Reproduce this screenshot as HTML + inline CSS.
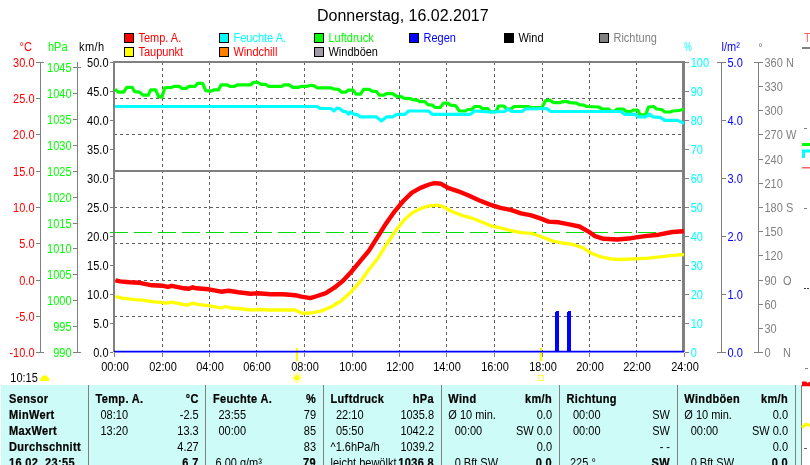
<!DOCTYPE html>
<html lang="de"><head><meta charset="utf-8"><title>Donnerstag, 16.02.2017</title>
<style>
html,body{margin:0;padding:0;background:#fff;overflow:hidden}
svg{display:block;will-change:transform;font-family:"Liberation Sans",Arial,sans-serif}
</style></head><body>
<svg width="810" height="465" viewBox="0 0 810 465">
<rect width="810" height="465" fill="#fff"/>
<g stroke="#606060" stroke-width="1" stroke-dasharray="3,3" fill="none" shape-rendering="crispEdges">
<path d="M162.5 62V351"/>
<path d="M209.5 62V351"/>
<path d="M256.5 62V351"/>
<path d="M304.5 62V351"/>
<path d="M352.5 62V351"/>
<path d="M399.5 62V351"/>
<path d="M446.5 62V351"/>
<path d="M494.5 62V351"/>
<path d="M542.5 62V351"/>
<path d="M589.5 62V351"/>
<path d="M636.5 62V351"/>
<path d="M114 98.5H683"/>
<path d="M114 134.5H683"/>
<path d="M114 207.5H683"/>
<path d="M114 243.5H683"/>
<path d="M114 280.5H683"/>
<path d="M114 316.5H683"/>
</g>
<path d="M110 232.5H684" stroke="#00e000" stroke-width="1" stroke-dasharray="18,6" shape-rendering="crispEdges"/>
<g fill="#808080" shape-rendering="crispEdges">
<rect x="113" y="61" width="2" height="291"/>
<rect x="113" y="61" width="572" height="2"/>
<rect x="682" y="61" width="3" height="291"/>
<rect x="113" y="170" width="572" height="2"/>
</g>
<polyline points="115.0,89.3 118.6,92.2 123.6,92.2 126.8,87.3 132.2,87.3 134.7,91.7 139.6,92.2 143.3,95.2 148.3,95.2 150.7,89.8 155.7,89.8 158.6,96.7 161.9,97.2 164.8,87.8 171.7,87.3 174.7,86.3 179.1,86.3 181.6,88.3 186.5,88.3 189.0,86.3 195.2,86.3 197.7,83.3 202.6,83.3 205.8,90.7 211.2,91.2 213.7,89.8 218.6,89.8 221.1,84.8 227.3,84.8 229.8,86.3 234.7,86.3 237.2,84.8 250.7,84.8 253.7,82.3 257.7,82.3 260.6,84.3 265.6,84.3 268.5,86.3 281.6,86.3 284.1,84.8 289.0,84.8 292.7,87.3 298.9,87.3 301.4,86.3 307.4,86.3 311.1,85.3 314.3,85.8 317.3,87.8 330.9,87.8 333.3,88.8 338.3,89.3 341.5,92.2 345.7,92.2 348.1,90.2 353.1,90.2 356.3,94.2 360.5,94.2 363.7,89.3 369.1,89.3 372.1,91.2 376.5,91.7 379.5,95.2 384.0,95.2 386.4,93.7 392.6,93.7 396.3,96.2 401.2,96.7 403.7,98.1 409.9,98.6 412.3,99.6 417.3,100.1 419.8,101.6 424.7,101.6 427.9,104.6 432.1,105.1 435.3,107.5 440.2,107.5 443.7,103.1 447.7,103.1 450.1,105.1 455.6,105.6 459.3,111.0 465.4,111.0 467.9,109.5 471.6,109.5 474.8,106.5 479.8,106.5 482.2,108.5 487.7,108.5 490.6,112.0 496.2,111.5 498.6,106.0 503.6,106.0 506.8,109.0 511.0,109.0 514.0,106.5 528.3,106.5 529.5,107.5 541.9,107.5 545.6,100.6 549.8,100.1 553.7,102.6 560.4,102.6 562.8,101.6 567.0,101.6 570.2,102.6 576.4,103.1 578.9,104.6 583.8,105.1 586.8,106.5 598.6,107.0 602.3,109.0 608.5,109.0 611.0,111.0 614.7,111.0 617.2,109.0 623.3,109.0 626.3,111.5 631.2,111.5 633.2,110.0 637.7,110.0 640.1,114.9 645.6,114.9 648.5,107.0 653.5,106.5 656.7,109.0 661.6,109.5 664.8,112.0 670.2,112.0 672.7,111.0 678.9,110.5 684.0,109.3" fill="none" stroke="#00ff00" stroke-width="3.2" stroke-linejoin="round" stroke-linecap="butt"/>
<polyline points="115.0,106.5 317.3,106.5 320.2,108.5 330.9,108.5 334.1,111.0 337.0,108.0 339.5,108.5 343.2,111.5 345.7,111.5 348.6,114.0 350.6,112.0 354.3,114.4 356.8,114.4 360.5,116.9 376.5,116.9 381.5,120.9 386.4,116.9 392.6,116.9 396.8,114.4 404.9,114.4 408.6,111.0 428.4,111.0 432.8,114.4 470.4,114.4 474.1,111.0 490.0,112.0 504.8,111.5 507.8,109.0 511.7,111.5 522.1,111.5 525.1,109.0 546.8,108.5 550.5,111.5 620.9,111.5 624.6,114.4 635.7,114.4 638.1,116.9 645.6,116.9 649.3,114.0 653.0,116.9 660.4,117.4 664.8,120.4 677.7,120.4 684.0,123.4" fill="none" stroke="#00ffff" stroke-width="3.2" stroke-linejoin="round" stroke-linecap="butt"/>
<polyline points="115.4,296.7 122.3,298.1 134.7,299.6 142.1,300.1 152.0,301.6 163.1,302.6 168.0,303.1 171.7,302.1 181.6,304.1 187.8,305.1 192.7,303.1 198.9,304.6 208.8,305.6 221.1,308.0 226.0,306.5 231.0,308.0 238.4,308.5 250.7,310.0 258.1,309.5 270.5,310.0 295.2,310.0 301.4,313.0 310.3,313.2 320.7,311.1 331.0,307.0 341.3,300.8 351.6,291.2 360.2,281.9 368.8,269.8 377.5,258.8 386.1,245.0 394.7,232.0 403.3,220.9 411.9,213.0 420.5,208.6 429.1,205.8 437.7,205.1 442.9,206.5 451.5,211.3 461.8,215.4 472.1,218.2 482.4,222.3 491.0,225.8 500.3,227.8 510.7,230.6 521.0,232.7 531.3,233.3 541.6,236.8 552.0,240.9 562.3,243.0 572.6,244.4 582.9,247.8 591.5,253.3 600.2,256.7 610.5,258.8 619.1,259.5 634.6,258.8 648.3,258.1 662.1,256.7 672.4,255.4 684.0,254.6" fill="none" stroke="#ffff00" stroke-width="3.3" stroke-linejoin="round" stroke-linecap="butt"/>
<polyline points="115.4,280.4 119.9,281.4 129.8,282.3 139.6,282.8 152.0,285.3 163.1,285.8 168.0,286.8 171.7,285.8 184.1,288.3 189.0,288.8 192.7,287.3 196.4,288.3 208.8,289.3 221.1,291.7 228.5,290.7 238.4,292.2 250.7,293.7 258.1,293.2 270.5,294.2 282.8,294.2 295.2,295.2 301.4,296.7 310.3,298.1 317.2,296.0 325.8,293.2 334.4,287.7 343.0,280.8 351.6,271.5 360.2,261.2 368.8,250.9 377.5,237.1 386.1,223.4 394.7,211.3 403.3,201.0 411.9,192.7 420.5,187.9 429.1,184.5 434.3,183.1 441.1,183.8 448.0,187.9 458.3,191.3 468.7,195.5 479.0,200.3 489.3,204.4 500.3,207.9 510.7,209.9 521.0,213.4 531.3,215.4 541.6,218.9 548.5,221.6 558.8,222.3 569.2,224.4 579.5,226.5 588.1,231.3 595.0,236.1 603.6,238.8 617.4,239.5 631.1,238.2 644.9,236.1 658.7,234.7 672.4,232.0 684.0,231.2" fill="none" stroke="#ff0000" stroke-width="4.4" stroke-linejoin="round" stroke-linecap="butt"/>
<rect x="296" y="348" width="2" height="13" fill="#ffff00" shape-rendering="crispEdges"/>
<rect x="540" y="348" width="2" height="13" fill="#ffff00" shape-rendering="crispEdges"/>
<path d="M114 351.65H684" stroke="#0000ff" stroke-width="1.6"/>
<path d="M555 352V312H556V311H559V352ZM567 352V312H568V311H571V352Z" fill="#0000ff"/>
<g stroke="#808080" stroke-width="1" shape-rendering="crispEdges">
<path d="M114.5 353V357"/>
<path d="M162.5 353V357"/>
<path d="M209.5 353V357"/>
<path d="M256.5 353V357"/>
<path d="M304.5 353V357"/>
<path d="M352.5 353V357"/>
<path d="M399.5 353V357"/>
<path d="M446.5 353V357"/>
<path d="M494.5 353V357"/>
<path d="M542.5 353V357"/>
<path d="M589.5 353V357"/>
<path d="M636.5 353V357"/>
<path d="M684.5 353V357"/>
</g>
<text transform="translate(115.0,371) scale(1,1.13)" fill="#000" text-anchor="middle" font-size="11">00:00</text>
<text transform="translate(163.0,371) scale(1,1.13)" fill="#000" text-anchor="middle" font-size="11">02:00</text>
<text transform="translate(210.0,371) scale(1,1.13)" fill="#000" text-anchor="middle" font-size="11">04:00</text>
<text transform="translate(257.0,371) scale(1,1.13)" fill="#000" text-anchor="middle" font-size="11">06:00</text>
<text transform="translate(305.0,371) scale(1,1.13)" fill="#000" text-anchor="middle" font-size="11">08:00</text>
<text transform="translate(353.0,371) scale(1,1.13)" fill="#000" text-anchor="middle" font-size="11">10:00</text>
<text transform="translate(400.0,371) scale(1,1.13)" fill="#000" text-anchor="middle" font-size="11">12:00</text>
<text transform="translate(447.0,371) scale(1,1.13)" fill="#000" text-anchor="middle" font-size="11">14:00</text>
<text transform="translate(495.0,371) scale(1,1.13)" fill="#000" text-anchor="middle" font-size="11">16:00</text>
<text transform="translate(543.0,371) scale(1,1.13)" fill="#000" text-anchor="middle" font-size="11">18:00</text>
<text transform="translate(590.0,371) scale(1,1.13)" fill="#000" text-anchor="middle" font-size="11">20:00</text>
<text transform="translate(637.0,371) scale(1,1.13)" fill="#000" text-anchor="middle" font-size="11">22:00</text>
<text transform="translate(685.0,371) scale(1,1.13)" fill="#000" text-anchor="middle" font-size="11">24:00</text>
<g stroke="#808080" stroke-width="1" fill="none" shape-rendering="crispEdges">
<path d="M40.5 62V352"/>
<path d="M36 62.5H44"/><path d="M36 352.5H44"/>
<path d="M36 98.5H40"/>
<path d="M36 134.5H40"/>
<path d="M36 171.5H40"/>
<path d="M36 207.5H40"/>
<path d="M36 243.5H40"/>
<path d="M36 280.5H40"/>
<path d="M36 316.5H40"/>
<path d="M77.5 62V352"/>
<path d="M73 67.5H81"/><path d="M73 352.5H81"/>
<path d="M73 326.5H77"/>
<path d="M73 300.5H77"/>
<path d="M73 274.5H77"/>
<path d="M73 248.5H77"/>
<path d="M73 223.5H77"/>
<path d="M73 197.5H77"/>
<path d="M73 171.5H77"/>
<path d="M73 145.5H77"/>
<path d="M73 119.5H77"/>
<path d="M73 93.5H77"/>
<path d="M110 352.5H113"/>
<path d="M110 323.5H113"/>
<path d="M110 294.5H113"/>
<path d="M110 265.5H113"/>
<path d="M110 236.5H113"/>
<path d="M110 207.5H113"/>
<path d="M110 178.5H113"/>
<path d="M110 149.5H113"/>
<path d="M110 120.5H113"/>
<path d="M110 91.5H113"/>
<path d="M110 62.5H113"/>
</g>
<text transform="translate(34.5,67) scale(1,1.13)" fill="#ff0000" text-anchor="end" font-size="11">30.0</text>
<text transform="translate(34.5,103) scale(1,1.13)" fill="#ff0000" text-anchor="end" font-size="11">25.0</text>
<text transform="translate(34.5,139) scale(1,1.13)" fill="#ff0000" text-anchor="end" font-size="11">20.0</text>
<text transform="translate(34.5,176) scale(1,1.13)" fill="#ff0000" text-anchor="end" font-size="11">15.0</text>
<text transform="translate(34.5,212) scale(1,1.13)" fill="#ff0000" text-anchor="end" font-size="11">10.0</text>
<text transform="translate(34.5,248) scale(1,1.13)" fill="#ff0000" text-anchor="end" font-size="11">5.0</text>
<text transform="translate(34.5,285) scale(1,1.13)" fill="#ff0000" text-anchor="end" font-size="11">0.0</text>
<text transform="translate(34.5,321) scale(1,1.13)" fill="#ff0000" text-anchor="end" font-size="11">-5.0</text>
<text transform="translate(34.5,357) scale(1,1.13)" fill="#ff0000" text-anchor="end" font-size="11">-10.0</text>
<text transform="translate(71.5,357) scale(1,1.13)" fill="#00ff00" text-anchor="end" font-size="11">990</text>
<text transform="translate(71.5,331) scale(1,1.13)" fill="#00ff00" text-anchor="end" font-size="11">995</text>
<text transform="translate(71.5,305) scale(1,1.13)" fill="#00ff00" text-anchor="end" font-size="11">1000</text>
<text transform="translate(71.5,279) scale(1,1.13)" fill="#00ff00" text-anchor="end" font-size="11">1005</text>
<text transform="translate(71.5,253) scale(1,1.13)" fill="#00ff00" text-anchor="end" font-size="11">1010</text>
<text transform="translate(71.5,228) scale(1,1.13)" fill="#00ff00" text-anchor="end" font-size="11">1015</text>
<text transform="translate(71.5,202) scale(1,1.13)" fill="#00ff00" text-anchor="end" font-size="11">1020</text>
<text transform="translate(71.5,176) scale(1,1.13)" fill="#00ff00" text-anchor="end" font-size="11">1025</text>
<text transform="translate(71.5,150) scale(1,1.13)" fill="#00ff00" text-anchor="end" font-size="11">1030</text>
<text transform="translate(71.5,124) scale(1,1.13)" fill="#00ff00" text-anchor="end" font-size="11">1035</text>
<text transform="translate(71.5,98) scale(1,1.13)" fill="#00ff00" text-anchor="end" font-size="11">1040</text>
<text transform="translate(71.5,72) scale(1,1.13)" fill="#00ff00" text-anchor="end" font-size="11">1045</text>
<text transform="translate(108.5,357) scale(1,1.13)" fill="#000" text-anchor="end" font-size="11">0.0</text>
<text transform="translate(108.5,328) scale(1,1.13)" fill="#000" text-anchor="end" font-size="11">5.0</text>
<text transform="translate(108.5,299) scale(1,1.13)" fill="#000" text-anchor="end" font-size="11">10.0</text>
<text transform="translate(108.5,270) scale(1,1.13)" fill="#000" text-anchor="end" font-size="11">15.0</text>
<text transform="translate(108.5,241) scale(1,1.13)" fill="#000" text-anchor="end" font-size="11">20.0</text>
<text transform="translate(108.5,212) scale(1,1.13)" fill="#000" text-anchor="end" font-size="11">25.0</text>
<text transform="translate(108.5,183) scale(1,1.13)" fill="#000" text-anchor="end" font-size="11">30.0</text>
<text transform="translate(108.5,154) scale(1,1.13)" fill="#000" text-anchor="end" font-size="11">35.0</text>
<text transform="translate(108.5,125) scale(1,1.13)" fill="#000" text-anchor="end" font-size="11">40.0</text>
<text transform="translate(108.5,96) scale(1,1.13)" fill="#000" text-anchor="end" font-size="11">45.0</text>
<text transform="translate(108.5,67) scale(1,1.13)" fill="#000" text-anchor="end" font-size="11">50.0</text>
<text transform="translate(19.5,51) scale(1,1.13)" fill="#ff0000" text-anchor="start" font-size="11">°C</text>
<text transform="translate(48,51) scale(1,1.13)" fill="#00ff00" text-anchor="start" font-size="11">hPa</text>
<text transform="translate(79,51) scale(1,1.13)" fill="#000" text-anchor="start" font-size="11" letter-spacing="0.4">km/h</text>
<g stroke="#808080" stroke-width="1" fill="none" shape-rendering="crispEdges">
<path d="M685 352.5H689"/>
<path d="M685 323.5H689"/>
<path d="M685 294.5H689"/>
<path d="M685 265.5H689"/>
<path d="M685 236.5H689"/>
<path d="M685 207.5H689"/>
<path d="M685 178.5H689"/>
<path d="M685 149.5H689"/>
<path d="M685 120.5H689"/>
<path d="M685 91.5H689"/>
<path d="M685 62.5H689"/>
</g>
<text transform="translate(690.7,357) scale(1,1.13)" fill="#00ffff" text-anchor="start" font-size="11">0</text>
<text transform="translate(690.7,328) scale(1,1.13)" fill="#00ffff" text-anchor="start" font-size="11">10</text>
<text transform="translate(690.7,299) scale(1,1.13)" fill="#00ffff" text-anchor="start" font-size="11">20</text>
<text transform="translate(690.7,270) scale(1,1.13)" fill="#00ffff" text-anchor="start" font-size="11">30</text>
<text transform="translate(690.7,241) scale(1,1.13)" fill="#00ffff" text-anchor="start" font-size="11">40</text>
<text transform="translate(690.7,212) scale(1,1.13)" fill="#00ffff" text-anchor="start" font-size="11">50</text>
<text transform="translate(690.7,183) scale(1,1.13)" fill="#00ffff" text-anchor="start" font-size="11">60</text>
<text transform="translate(690.7,154) scale(1,1.13)" fill="#00ffff" text-anchor="start" font-size="11">70</text>
<text transform="translate(690.7,125) scale(1,1.13)" fill="#00ffff" text-anchor="start" font-size="11">80</text>
<text transform="translate(690.7,96) scale(1,1.13)" fill="#00ffff" text-anchor="start" font-size="11">90</text>
<text transform="translate(690.7,67) scale(1,1.13)" fill="#00ffff" text-anchor="start" font-size="11">100</text>
<g stroke="#808080" stroke-width="1" fill="none" shape-rendering="crispEdges">
<path d="M721.5 62V352"/><path d="M717 62.5H726"/><path d="M717 352.5H726"/>
<path d="M722 294.5H726"/>
<path d="M722 236.5H726"/>
<path d="M722 178.5H726"/>
<path d="M722 120.5H726"/>
<path d="M758.5 62V352"/><path d="M754 62.5H763"/><path d="M754 352.5H763"/>
<path d="M759 328.5H763"/>
<path d="M759 304.5H763"/>
<path d="M759 280.5H763"/>
<path d="M759 255.5H763"/>
<path d="M759 231.5H763"/>
<path d="M759 207.5H763"/>
<path d="M759 183.5H763"/>
<path d="M759 159.5H763"/>
<path d="M759 134.5H763"/>
<path d="M759 110.5H763"/>
<path d="M759 86.5H763"/>
</g>
<text transform="translate(727.5,357) scale(1,1.13)" fill="#0000ff" text-anchor="start" font-size="11">0.0</text>
<text transform="translate(727.5,299) scale(1,1.13)" fill="#0000ff" text-anchor="start" font-size="11">1.0</text>
<text transform="translate(727.5,241) scale(1,1.13)" fill="#0000ff" text-anchor="start" font-size="11">2.0</text>
<text transform="translate(727.5,183) scale(1,1.13)" fill="#0000ff" text-anchor="start" font-size="11">3.0</text>
<text transform="translate(727.5,125) scale(1,1.13)" fill="#0000ff" text-anchor="start" font-size="11">4.0</text>
<text transform="translate(727.5,67) scale(1,1.13)" fill="#0000ff" text-anchor="start" font-size="11">5.0</text>
<text transform="translate(764.5,357) scale(1,1.13)" fill="#808080" text-anchor="start" font-size="11">0</text>
<text transform="translate(764.5,333) scale(1,1.13)" fill="#808080" text-anchor="start" font-size="11">30</text>
<text transform="translate(764.5,309) scale(1,1.13)" fill="#808080" text-anchor="start" font-size="11">60</text>
<text transform="translate(764.5,285) scale(1,1.13)" fill="#808080" text-anchor="start" font-size="11">90</text>
<text transform="translate(764.5,260) scale(1,1.13)" fill="#808080" text-anchor="start" font-size="11">120</text>
<text transform="translate(764.5,236) scale(1,1.13)" fill="#808080" text-anchor="start" font-size="11">150</text>
<text transform="translate(764.5,212) scale(1,1.13)" fill="#808080" text-anchor="start" font-size="11">180 S</text>
<text transform="translate(764.5,188) scale(1,1.13)" fill="#808080" text-anchor="start" font-size="11">210</text>
<text transform="translate(764.5,164) scale(1,1.13)" fill="#808080" text-anchor="start" font-size="11">240</text>
<text transform="translate(764.5,139) scale(1,1.13)" fill="#808080" text-anchor="start" font-size="11">270 W</text>
<text transform="translate(764.5,115) scale(1,1.13)" fill="#808080" text-anchor="start" font-size="11">300</text>
<text transform="translate(764.5,91) scale(1,1.13)" fill="#808080" text-anchor="start" font-size="11">330</text>
<text transform="translate(764.5,67) scale(1,1.13)" fill="#808080" text-anchor="start" font-size="11">360 N</text>
<text transform="translate(783,285) scale(1,1.13)" fill="#808080" text-anchor="start" font-size="11">O</text>
<text transform="translate(783,357) scale(1,1.13)" fill="#808080" text-anchor="start" font-size="11">N</text>
<text transform="translate(684.3,51) scale(1,1.42)" fill="#00ffff" text-anchor="start" font-size="8.5">%</text>
<text transform="translate(721.5,51) scale(1,1.13)" fill="#0000ff" text-anchor="start" font-size="11">l/m²</text>
<text transform="translate(758.3,52) scale(1,1.13)" fill="#808080" text-anchor="start" font-size="11">°</text>
<text transform="translate(402.8,21) scale(1,1.0)" fill="#000" text-anchor="middle" font-size="16">Donnerstag, 16.02.2017</text>
<rect x="124.5" y="33.5" width="9" height="9" fill="#ff0000" stroke="#000" stroke-width="1" shape-rendering="crispEdges"/>
<text transform="translate(138.5,42) scale(1,1.13)" fill="#ff0000" text-anchor="start" font-size="11">Temp. A.</text>
<rect x="124.5" y="47.5" width="9" height="9" fill="#ffff00" stroke="#000" stroke-width="1" shape-rendering="crispEdges"/>
<text transform="translate(138.5,56) scale(1,1.13)" fill="#ff0000" text-anchor="start" font-size="11">Taupunkt</text>
<rect x="219.5" y="33.5" width="9" height="9" fill="#00ffff" stroke="#000" stroke-width="1" shape-rendering="crispEdges"/>
<text transform="translate(233.5,42) scale(1,1.13)" fill="#00ffff" text-anchor="start" font-size="11">Feuchte A.</text>
<rect x="219.5" y="47.5" width="9" height="9" fill="#ff8000" stroke="#000" stroke-width="1" shape-rendering="crispEdges"/>
<text transform="translate(233.5,56) scale(1,1.13)" fill="#ff0000" text-anchor="start" font-size="11">Windchill</text>
<rect x="314.5" y="33.5" width="9" height="9" fill="#00ff00" stroke="#000" stroke-width="1" shape-rendering="crispEdges"/>
<text transform="translate(328.5,42) scale(1,1.13)" fill="#00ff00" text-anchor="start" font-size="11">Luftdruck</text>
<rect x="314.5" y="47.5" width="9" height="9" fill="#a09aa4" stroke="#000" stroke-width="1" shape-rendering="crispEdges"/>
<text transform="translate(328.5,56) scale(1,1.13)" fill="#000" text-anchor="start" font-size="11">Windböen</text>
<rect x="409.5" y="33.5" width="9" height="9" fill="#0000ff" stroke="#000" stroke-width="1" shape-rendering="crispEdges"/>
<text transform="translate(423.5,42) scale(1,1.13)" fill="#0000ff" text-anchor="start" font-size="11">Regen</text>
<rect x="504.5" y="33.5" width="9" height="9" fill="#000000" stroke="#000" stroke-width="1" shape-rendering="crispEdges"/>
<text transform="translate(518.5,42) scale(1,1.13)" fill="#000" text-anchor="start" font-size="11">Wind</text>
<rect x="599.5" y="33.5" width="9" height="9" fill="#808080" stroke="#000" stroke-width="1" shape-rendering="crispEdges"/>
<text transform="translate(613.5,42) scale(1,1.13)" fill="#808080" text-anchor="start" font-size="11">Richtung</text>
<g transform="translate(297,377.8)" stroke="#ffff00" stroke-width="1" fill="none"><path d="M-5.5 0H5.5M0 -5.5V5.5M-4 -4L4 4M-4 4L4 -4" opacity="0.4"/><circle r="4.5" opacity="0.3"/><circle r="2.7" fill="#ffff00" stroke="none"/></g>
<rect x="538.5" y="375.5" width="5" height="5" fill="none" stroke="#ffff50" stroke-width="1" shape-rendering="crispEdges"/>
<text transform="translate(10.3,382) scale(1,1.13)" fill="#000" text-anchor="start" font-size="11">10:15</text>
<path d="M40 381V379.3L41 377.8L42.5 376.3L44 375.3H45.5L47 376.3L48.5 377.8L49.3 379.3V381Z" fill="#ffff00"/>
<rect x="1" y="385" width="794" height="80" fill="#ccfbf8"/>
<rect x="796" y="385" width="5" height="80" fill="#ccfbf8"/>
<g fill="#808080" shape-rendering="crispEdges">
<rect x="88" y="385" width="1" height="80"/>
<rect x="205" y="385" width="1" height="80"/>
<rect x="323" y="385" width="1" height="80"/>
<rect x="441" y="385" width="1" height="80"/>
<rect x="559" y="385" width="1" height="80"/>
<rect x="677" y="385" width="1" height="80"/>
<rect x="795" y="385" width="1" height="80"/>
<rect x="801" y="385" width="1" height="80"/>
</g>
<text transform="translate(9,403) scale(1,1.13)" fill="#000" text-anchor="start" font-size="11" font-weight="bold" letter-spacing="0.35" stroke="#000" stroke-width="0.2">Sensor</text>
<text transform="translate(9,419) scale(1,1.13)" fill="#000" text-anchor="start" font-size="11" font-weight="bold" letter-spacing="0.35" stroke="#000" stroke-width="0.2">MinWert</text>
<text transform="translate(9,434.8) scale(1,1.13)" fill="#000" text-anchor="start" font-size="11" font-weight="bold" letter-spacing="0.35" stroke="#000" stroke-width="0.2">MaxWert</text>
<text transform="translate(9,450.9) scale(1,1.13)" fill="#000" text-anchor="start" font-size="11" font-weight="bold" letter-spacing="0.35" stroke="#000" stroke-width="0.2">Durchschnitt</text>
<text transform="translate(9,467) scale(1,1.13)" fill="#000" text-anchor="start" font-size="11" font-weight="bold" letter-spacing="0.35" stroke="#000" stroke-width="0.2">16.02. 23:55</text>
<text transform="translate(95.5,403) scale(1,1.13)" fill="#000" text-anchor="start" font-size="11" font-weight="bold" letter-spacing="0.35" stroke="#000" stroke-width="0.2">Temp. A.</text>
<text transform="translate(198.7,403) scale(1,1.13)" fill="#000" text-anchor="end" font-size="11" font-weight="bold" letter-spacing="0.35" stroke="#000" stroke-width="0.2">°C</text>
<text transform="translate(100.5,419) scale(1,1.13)" fill="#000" text-anchor="start" font-size="11">08:10</text>
<text transform="translate(198.7,419) scale(1,1.13)" fill="#000" text-anchor="end" font-size="11">-2.5</text>
<text transform="translate(100.5,434.8) scale(1,1.13)" fill="#000" text-anchor="start" font-size="11">13:20</text>
<text transform="translate(198.7,434.8) scale(1,1.13)" fill="#000" text-anchor="end" font-size="11">13.3</text>
<text transform="translate(198.7,450.9) scale(1,1.13)" fill="#000" text-anchor="end" font-size="11">4.27</text>
<text transform="translate(198.7,467) scale(1,1.13)" fill="#000" text-anchor="end" font-size="11" font-weight="bold" letter-spacing="0.35" stroke="#000" stroke-width="0.2">6.7</text>
<text transform="translate(213,403) scale(1,1.13)" fill="#000" text-anchor="start" font-size="11" font-weight="bold" letter-spacing="0.35" stroke="#000" stroke-width="0.2">Feuchte A.</text>
<text transform="translate(316,403) scale(1,1.13)" fill="#000" text-anchor="end" font-size="11" font-weight="bold" letter-spacing="0.35" stroke="#000" stroke-width="0.2">%</text>
<text transform="translate(218.5,419) scale(1,1.13)" fill="#000" text-anchor="start" font-size="11">23:55</text>
<text transform="translate(316,419) scale(1,1.13)" fill="#000" text-anchor="end" font-size="11">79</text>
<text transform="translate(218.5,434.8) scale(1,1.13)" fill="#000" text-anchor="start" font-size="11">00:00</text>
<text transform="translate(316,434.8) scale(1,1.13)" fill="#000" text-anchor="end" font-size="11">85</text>
<text transform="translate(316,450.9) scale(1,1.13)" fill="#000" text-anchor="end" font-size="11">83</text>
<text transform="translate(215.5,467) scale(1,1.13)" fill="#000" text-anchor="start" font-size="11">6.00 g/m³</text>
<text transform="translate(316,467) scale(1,1.13)" fill="#000" text-anchor="end" font-size="11" font-weight="bold" letter-spacing="0.35" stroke="#000" stroke-width="0.2">79</text>
<text transform="translate(330.5,403) scale(1,1.13)" fill="#000" text-anchor="start" font-size="11" font-weight="bold" letter-spacing="0.35" stroke="#000" stroke-width="0.2">Luftdruck</text>
<text transform="translate(434,403) scale(1,1.13)" fill="#000" text-anchor="end" font-size="11" font-weight="bold" letter-spacing="0.35" stroke="#000" stroke-width="0.2">hPa</text>
<text transform="translate(336,419) scale(1,1.13)" fill="#000" text-anchor="start" font-size="11">22:10</text>
<text transform="translate(434,419) scale(1,1.13)" fill="#000" text-anchor="end" font-size="11">1035.8</text>
<text transform="translate(336,434.8) scale(1,1.13)" fill="#000" text-anchor="start" font-size="11">05:50</text>
<text transform="translate(434,434.8) scale(1,1.13)" fill="#000" text-anchor="end" font-size="11">1042.2</text>
<text transform="translate(330.5,450.9) scale(1,1.13)" fill="#000" text-anchor="start" font-size="11">^1.6hPa/h</text>
<text transform="translate(434,450.9) scale(1,1.13)" fill="#000" text-anchor="end" font-size="11">1039.2</text>
<text transform="translate(330.5,467) scale(1,1.13)" fill="#000" text-anchor="start" font-size="11">leicht bewölkt</text>
<text transform="translate(434,467) scale(1,1.13)" fill="#000" text-anchor="end" font-size="11" font-weight="bold" letter-spacing="0.35" stroke="#000" stroke-width="0.2">1036.8</text>
<text transform="translate(448.3,403) scale(1,1.13)" fill="#000" text-anchor="start" font-size="11" font-weight="bold" letter-spacing="0.35" stroke="#000" stroke-width="0.2">Wind</text>
<text transform="translate(552,403) scale(1,1.13)" fill="#000" text-anchor="end" font-size="11" font-weight="bold" letter-spacing="0.35" stroke="#000" stroke-width="0.2">km/h</text>
<text transform="translate(448.3,419) scale(1,1.13)" fill="#000" text-anchor="start" font-size="11">Ø 10 min.</text>
<text transform="translate(552,419) scale(1,1.13)" fill="#000" text-anchor="end" font-size="11">0.0</text>
<text transform="translate(454.7,434.8) scale(1,1.13)" fill="#000" text-anchor="start" font-size="11">00:00</text>
<text transform="translate(552,434.8) scale(1,1.13)" fill="#000" text-anchor="end" font-size="11">SW 0.0</text>
<text transform="translate(552,450.9) scale(1,1.13)" fill="#000" text-anchor="end" font-size="11">0.0</text>
<text transform="translate(454.7,467) scale(1,1.13)" fill="#000" text-anchor="start" font-size="11">0 Bft SW</text>
<text transform="translate(552,467) scale(1,1.13)" fill="#000" text-anchor="end" font-size="11" font-weight="bold" letter-spacing="0.35" stroke="#000" stroke-width="0.2">0.0</text>
<text transform="translate(566.5,403) scale(1,1.13)" fill="#000" text-anchor="start" font-size="11" font-weight="bold" letter-spacing="0.35" stroke="#000" stroke-width="0.2">Richtung</text>
<text transform="translate(573,419) scale(1,1.13)" fill="#000" text-anchor="start" font-size="11">00:00</text>
<text transform="translate(670,419) scale(1,1.13)" fill="#000" text-anchor="end" font-size="11">SW</text>
<text transform="translate(573,434.8) scale(1,1.13)" fill="#000" text-anchor="start" font-size="11">00:00</text>
<text transform="translate(670,434.8) scale(1,1.13)" fill="#000" text-anchor="end" font-size="11">SW</text>
<text transform="translate(670,450.9) scale(1,1.13)" fill="#000" text-anchor="end" font-size="11">- -</text>
<text transform="translate(570,467) scale(1,1.13)" fill="#000" text-anchor="start" font-size="11">225 °</text>
<text transform="translate(670,467) scale(1,1.13)" fill="#000" text-anchor="end" font-size="11" font-weight="bold" letter-spacing="0.35" stroke="#000" stroke-width="0.2">SW</text>
<text transform="translate(684.3,403) scale(1,1.13)" fill="#000" text-anchor="start" font-size="11" font-weight="bold" letter-spacing="0.35" stroke="#000" stroke-width="0.2">Windböen</text>
<text transform="translate(788,403) scale(1,1.13)" fill="#000" text-anchor="end" font-size="11" font-weight="bold" letter-spacing="0.35" stroke="#000" stroke-width="0.2">km/h</text>
<text transform="translate(684.3,419) scale(1,1.13)" fill="#000" text-anchor="start" font-size="11">Ø 10 min.</text>
<text transform="translate(788,419) scale(1,1.13)" fill="#000" text-anchor="end" font-size="11">0.0</text>
<text transform="translate(690.7,434.8) scale(1,1.13)" fill="#000" text-anchor="start" font-size="11">00:00</text>
<text transform="translate(788,434.8) scale(1,1.13)" fill="#000" text-anchor="end" font-size="11">SW 0.0</text>
<text transform="translate(788,450.9) scale(1,1.13)" fill="#000" text-anchor="end" font-size="11">0.0</text>
<text transform="translate(690.7,467) scale(1,1.13)" fill="#000" text-anchor="start" font-size="11">0 Bft SW</text>
<text transform="translate(788,467) scale(1,1.13)" fill="#000" text-anchor="end" font-size="11" font-weight="bold" letter-spacing="0.35" stroke="#000" stroke-width="0.2">0.0</text>
<text transform="translate(804,42) scale(1,1.13)" fill="#ff6060" font-size="11">T</text>
<rect x="802" y="47" width="8" height="2" fill="#808080"/>
<rect x="804" y="128" width="3" height="1" fill="#808080"/>
<rect x="802" y="143" width="8" height="3" fill="#00ff00"/>
<path d="M803.5 158V151H810" stroke="#00ffff" stroke-width="3" fill="none"/>
<rect x="802" y="167" width="8" height="1.5" fill="#ff6060"/>
<rect x="804" y="208" width="3" height="1" fill="#808080"/>
<rect x="804" y="288" width="2" height="1" fill="#404040"/><rect x="807" y="288" width="2" height="1" fill="#404040"/>
<rect x="805" y="368" width="3" height="1" fill="#808080"/>
<path d="M802 381.5H806L807.5 383L810 381.5V386.3H802Z" fill="#ff0000"/>
<path d="M802 427.5L806 424L810 425.5" stroke="#ffff00" stroke-width="3" fill="none"/>
<rect x="804" y="448" width="3" height="1" fill="#606060"/>
</svg>
</body></html>
